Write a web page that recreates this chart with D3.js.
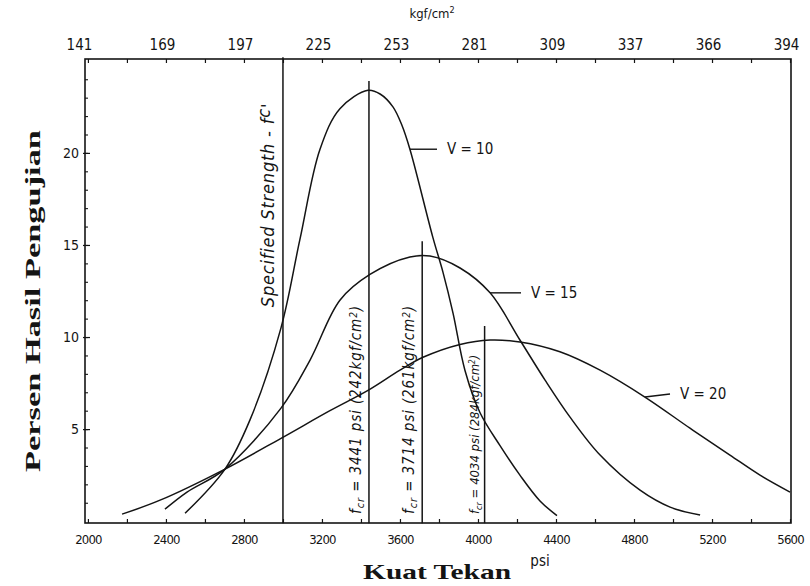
<!DOCTYPE html>
<html><head><meta charset="utf-8">
<script src="https://cdn.jsdelivr.net/npm/d3@7"></script>
<style>body{margin:0;background:#fff}svg{display:block}</style>
</head><body>
<script>
// ---- data ----
const psiTicks = [2000, 2400, 2800, 3200, 3600, 4000, 4400, 4800, 5200, 5600];
const kgfLabels = ["141", "169", "197", "225", "253", "281", "309", "337", "366", "394"];
const pctTicks = [5, 10, 15, 20];

const v10Psi = [2498, 2703, 2831, 2990, 3087, 3190, 3292, 3436, 3498, 3564, 3610, 3651, 3769, 3821, 3872, 3933, 4010, 4113, 4215, 4318, 4405];
const v10Pct = [0.43, 2.83, 5.5, 10.5, 15.3, 20.2, 22.4, 23.4, 23.2, 22.5, 21.5, 20.2, 15.4, 13.5, 11.3, 8.2, 5.9, 4.1, 2.5, 1.1, 0.3];

const v15Psi = [2395, 2508, 2703, 2990, 3139, 3292, 3446, 3651, 3754, 3908, 4062, 4215, 4344, 4472, 4626, 4831, 4985, 5139];
const v15Pct = [0.65, 1.58, 2.83, 6.14, 8.75, 12.0, 13.4, 14.35, 14.4, 13.75, 12.4, 9.84, 7.66, 5.65, 3.59, 1.68, 0.76, 0.33];

const v20Psi = [2175, 2370, 2703, 2990, 3241, 3436, 3600, 3718, 3908, 4062, 4215, 4420, 4626, 4856, 5087, 5292, 5446, 5600];
const v20Pct = [0.38, 1.14, 2.83, 4.5, 6.0, 7.1, 8.2, 8.9, 9.6, 9.84, 9.73, 9.2, 8.2, 6.74, 5.05, 3.59, 2.5, 1.58];

const curveNames = ["V = 10", "V = 15", "V = 20"];
const refPsi = [3000, 3441, 3714, 4034];
const refTopPct = [25.2, 23.9, 15.2, 10.6];

// ---- layout ----
const W = 810, H = 586;
const L = 85, R = 791, T = 59, B = 523;
const svg = d3.select("body").append("svg").attr("width", W).attr("height", H);
const ink = "#141414";

const x = d3.scaleLinear().domain([1985, 5605]).range([L, R]);
const y = d3.scaleLinear().domain([-0.1, 25.1]).range([B, T]);
const xTop = d3.scaleLinear().domain(x.domain()).range([L, R]);

const tickFont = "'DejaVu Sans Condensed','DejaVu Sans',sans-serif";
const serif = "'Liberation Serif','Times New Roman',serif";

// frame
svg.append("rect").attr("x", L).attr("y", T).attr("width", R - L).attr("height", B - T)
  .attr("fill", "none").attr("stroke", ink).attr("stroke-width", 1.6);

// bottom axis
const gB = svg.append("g").attr("transform", `translate(0,${B})`)
  .call(d3.axisBottom(x).tickValues(d3.range(2000, 5601, 200)).tickSize(-4).tickFormat(""));
gB.select(".domain").remove();
gB.selectAll("line").attr("stroke", ink).attr("stroke-width", 1.2);
const gB2 = svg.append("g").attr("transform", `translate(0,${B})`)
  .call(d3.axisBottom(x).tickValues(psiTicks).tickSize(0).tickPadding(12).tickFormat(d3.format("d")));
gB2.select(".domain").remove();
gB2.selectAll("text").attr("font-family", tickFont).attr("font-size", 13).attr("fill", ink).attr("letter-spacing", -0.8);

// top axis
const gT = svg.append("g").attr("transform", `translate(0,${T})`)
  .call(d3.axisTop(xTop).tickValues(d3.range(2000, 5601, 200)).tickSize(-4).tickFormat(""));
gT.select(".domain").remove();
gT.selectAll("line").attr("stroke", ink).attr("stroke-width", 1.2);
const gT2 = svg.append("g").attr("transform", `translate(0,${T})`)
  .call(d3.axisTop(xTop).tickValues(psiTicks).tickSize(0).tickPadding(9).tickFormat((d, i) => kgfLabels[i]));
gT2.select(".domain").remove();
gT2.selectAll("text").attr("font-family", tickFont).attr("font-size", 15).attr("fill", ink)
  .attr("dx", (d, i) => i === 0 ? -9 : -4);

// left axis
const gL = svg.append("g").attr("transform", `translate(${L},0)`)
  .call(d3.axisLeft(y).tickValues(d3.range(1, 25, 1)).tickSize(-3).tickFormat(""));
gL.select(".domain").remove();
gL.selectAll("line").attr("stroke", ink).attr("stroke-width", 1.1);
const gL2 = svg.append("g").attr("transform", `translate(${L},0)`)
  .call(d3.axisLeft(y).tickValues(pctTicks).tickSize(6).tickPadding(2).tickFormat(d3.format("d")));
gL2.select(".domain").remove();
gL2.selectAll("line").attr("stroke", ink).attr("stroke-width", 1.2).attr("x2", 5).attr("x1", -2);
gL2.selectAll("text").attr("font-family", tickFont).attr("font-size", 14).attr("fill", ink).attr("x", -6);

// axis titles
svg.append("text").attr("x", 432).attr("y", 18).attr("text-anchor", "middle")
  .attr("font-family", tickFont).attr("font-size", 13).attr("fill", ink)
  .html("kgf/cm<tspan dy='-5' font-size='9'>2</tspan>");
svg.append("text").attr("x", 540).attr("y", 566).attr("text-anchor", "middle")
  .attr("font-family", tickFont).attr("font-size", 15).attr("fill", ink).text("psi");
svg.append("text").attr("x", 437).attr("y", 579).attr("text-anchor", "middle")
  .attr("font-family", serif).attr("font-weight", "bold")
  .attr("font-size", 21).attr("fill", ink)
  .attr("textLength", 148).attr("lengthAdjust", "spacingAndGlyphs").text("Kuat Tekan");
svg.append("text").attr("transform", "translate(40,301) rotate(-90)").attr("text-anchor", "middle")
  .attr("font-family", serif).attr("font-weight", "bold")
  .attr("font-size", 21).attr("fill", ink)
  .attr("textLength", 342).attr("lengthAdjust", "spacingAndGlyphs").text("Persen Hasil Pengujian");

// reference vertical lines
svg.selectAll("line.ref").data(refPsi).enter().append("line").attr("class", "ref")
  .attr("x1", d => x(d)).attr("x2", d => x(d))
  .attr("y1", y(0) + 2).attr("y2", (d, i) => y(refTopPct[i]))
  .attr("stroke", ink).attr("stroke-width", 1.5);

// curves
const line = d3.line().x(d => x(d[0])).y(d => y(d[1])).curve(d3.curveCatmullRom.alpha(0.5));
const series = [
  d3.zip(v10Psi, v10Pct),
  d3.zip(v15Psi, v15Pct),
  d3.zip(v20Psi, v20Pct)
];
svg.selectAll("path.curve").data(series).enter().append("path").attr("class", "curve")
  .attr("d", line).attr("fill", "none").attr("stroke", ink).attr("stroke-width", 1.5);

// curve labels with leader lines
const labelAt = [[3651, 20.2], [4062, 12.4], [4856, 6.74]];
const labelTextX = [447, 531, 680];
labelAt.forEach((p, i) => {
  const x0 = x(p[0]), y0 = y(p[1]);
  const tx = labelTextX[i];
  const dy = i === 2 ? -3 : 0;
  svg.append("line").attr("x1", x0).attr("y1", y0).attr("x2", tx - 10).attr("y2", y0 + dy)
    .attr("stroke", ink).attr("stroke-width", 1.4);
  svg.append("text").attr("x", tx).attr("y", y0 + 5 + dy)
    .attr("font-family", tickFont).attr("font-size", 15).attr("fill", ink).text(curveNames[i]);
});

// rotated labels along reference lines
const hand = "'DejaVu Sans Condensed','DejaVu Sans',sans-serif";
svg.append("text").attr("transform", `translate(${x(3000) - 9},205) rotate(-90)`)
  .attr("text-anchor", "middle").attr("font-family", hand).attr("font-style", "italic")
  .attr("font-size", 18).attr("letter-spacing", 0.8).attr("fill", ink)
  .html("Specified Strength - f<tspan dy='-4'>c</tspan><tspan dy='4'>'</tspan>");
const refLabels = [
  ["3441 psi", "(242kgf/cm", 3441],
  ["3714 psi", "(261kgf/cm", 3714],
  ["4034 psi", "(284kgf/cm", 4034]
];
const refLabelX = [-8, -8, -6];
const refLabelSize = [15, 15, 13];
const refLabelSpacing = [0.9, 0.9, 0];
refLabels.forEach((r, i) => {
  svg.append("text").attr("transform", `translate(${x(r[2]) + refLabelX[i]},514) rotate(-90)`)
    .attr("text-anchor", "start").attr("font-family", hand).attr("font-style", "italic")
    .attr("font-size", refLabelSize[i]).attr("letter-spacing", refLabelSpacing[i]).attr("fill", ink)
    .html(`f<tspan dy='3' font-size='${refLabelSize[i] - 4}'>cr</tspan><tspan dy='-3'> = ${r[0]} ${r[1]}</tspan><tspan dy='-4' font-size='${refLabelSize[i] - 5}'>2</tspan><tspan dy='4'>)</tspan>`);
});
</script>
</body></html>
